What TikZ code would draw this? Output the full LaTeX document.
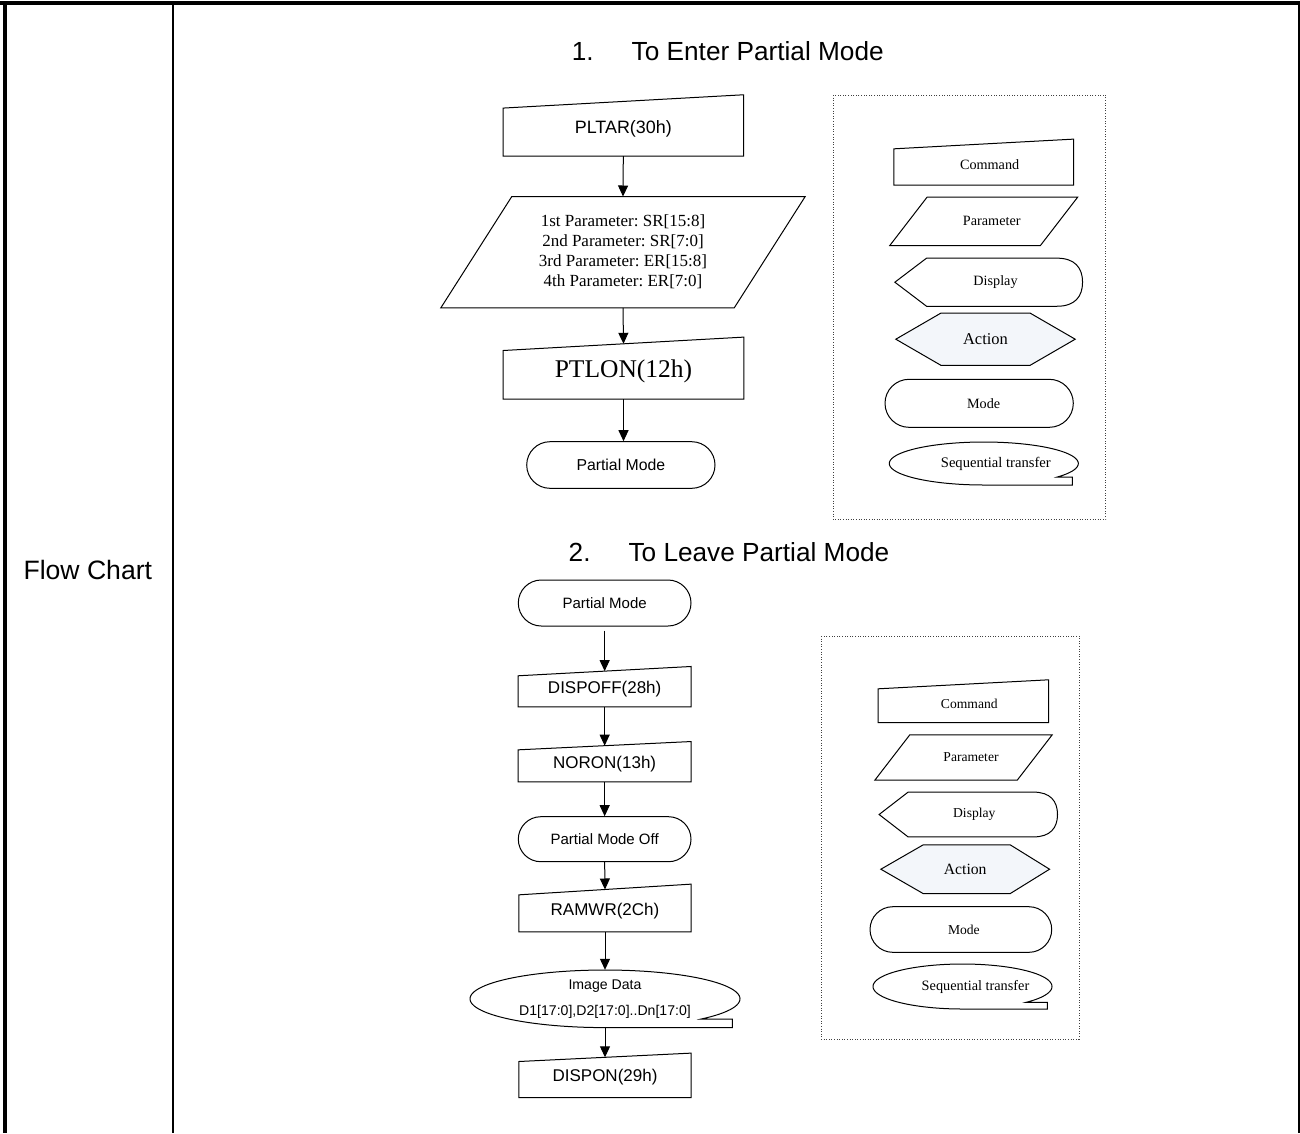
\documentclass[tikz,border=0pt]{standalone}
\usepackage{fontspec}
\setmainfont{Liberation Serif}
\newfontfamily\arial{Liberation Sans}
\usetikzlibrary{calc,arrows.meta,shapes.misc,backgrounds}
\definecolor{actfill}{HTML}{F3F6FA}
\frenchspacing
\tikzset{
  shp/.style={draw=black,line width=1pt},
  bx/.style 2 args={rectangle,draw=none,inner sep=0pt,minimum width=#1pt,minimum height=#2pt},
  modebox/.style 2 args={rounded rectangle,draw=black,line width=1pt,inner sep=0pt,minimum width=#1pt,minimum height=#2pt},
  arr/.style={-{Triangle[length=11pt,width=10pt]},line width=1pt},
  legbox/.style={draw=black!75,line width=0.9pt,dash pattern=on 1pt off 1.6pt},
}
\newcommand{\fcCmdShape}[2]{\draw[shp] ($(#1.north west)+(0,#2)$) -- ($(#1.north east)+(0,-#2)$) -- (#1.south east) -- (#1.south west) -- cycle;}
\newcommand{\fcParShape}[2]{\draw[shp] ($(#1.north west)+(#2,0)$) -- ($(#1.north east)+(#2,0)$) -- ($(#1.south east)+(-#2,0)$) -- ($(#1.south west)+(-#2,0)$) -- cycle;}
\newcommand{\fcDispShape}[3]{\draw[shp] (#1.west) -- ($(#1.north west)+(#2,0)$) -- ($(#1.north east)+(-#3,0)$) .. controls ($(#1.north east)+(-0.3*#3,0)$) and ($(#1.north east)!0.4!(#1.east)$) .. (#1.east) .. controls ($(#1.south east)!0.4!(#1.east)$) and ($(#1.south east)+(-0.3*#3,0)$) .. ($(#1.south east)+(-#3,0)$) -- ($(#1.south west)+(#2,0)$) -- cycle;}
\newcommand{\fcHexShape}[3]{\begin{scope}[on background layer]\draw[shp,fill=actfill] (#1.west) -- ($(#1.north west)+(#2,0)$) -- ($(#1.north east)+(-#3,0)$) -- (#1.east) -- ($(#1.south east)+(-#3,0)$) -- ($(#1.south west)+(#2,0)$) -- cycle;\end{scope}}
\newcommand{\fcTapeShape}[6]{\draw[shp,shift={(#1.center)}] plot[domain=-270:#6,samples=100] ({#2*cos(\x)},{#3*sin(\x)}) -- (#5,#4) -- (#5,#3) -- cycle;}
\begin{document}
\begin{tikzpicture}[x=1pt,y=-1pt]
\useasboundingbox (0,0) rectangle (1300,1133);
% table frame
\draw[line width=4pt] (0,3) -- (1300,3);
\draw[line width=3.4pt] (5,3) -- (5,1133);
\draw[line width=2.7pt] (173,3) -- (173,1133);
\draw[line width=3pt] (1299,3) -- (1299,1133);
\node[anchor=base west,inner sep=0pt,font=\arial\fontsize{26.6}{30}\selectfont] (fc) at (23.3,579) {Flow Chart};
% titles
\node[anchor=base west,inner sep=0pt,font=\arial\fontsize{26.2}{30}\selectfont] (t1) at (571.7,60.5) {1.\hspace{38pt}To Enter Partial Mode};
\node[anchor=base west,inner sep=0pt,font=\arial\fontsize{26.2}{30}\selectfont] (t2) at (568.5,561) {2.\hspace{38pt}To Leave Partial Mode};
% ---- chart 1
\node[bx={240}{54.35},font=\arial\fontsize{17.9}{20}\selectfont] (pltar) at (623.3,128.8) {PLTAR(30h)};
\fcCmdShape{pltar}{6.65}
\node[bx={293}{111},align=center,font=\fontsize{17}{20}\selectfont] (param) at (623,252.2) {1st Parameter: SR[15:8]\\2nd Parameter: SR[7:0]\\3rd Parameter: ER[15:8]\\4th Parameter: ER[7:0]};
\fcParShape{param}{35.5}
\node[bx={240.3}{55},font=\fontsize{25.5}{28}\selectfont] (ptlon) at (623.5,371.5) {PTLON(12h)};
\fcCmdShape{ptlon}{6.7}
\node[modebox={188.3}{46.6},font=\arial\fontsize{15.8}{18}\selectfont] (pm) at (620.85,465) {Partial Mode};
\draw[arr] (pltar.south) -- (param.north);
\draw[arr] (param.south) -- (ptlon.north);
\draw[arr] (ptlon.south) -- (ptlon.south |- pm.north);
% ---- legend 1
\draw[legbox] (833,95) rectangle (1105.7,519.3);
\node[bx={179.3}{40.85},font=\fontsize{14.2}{16}\selectfont] (cmdA) at (983.65,164.6) {\hspace*{12pt}Command};
\fcCmdShape{cmdA}{4.85}
\node[bx={150.2}{48},font=\fontsize{14.2}{16}\selectfont] (parA) at (983.75,221.3) {\hspace*{16pt}Parameter};
\fcParShape{parA}{18.65}
\node[bx={187.3}{47.7},font=\fontsize{14.2}{16}\selectfont] (dispA) at (988.7,282.2) {\hspace*{13.6pt}Display};
\fcDispShape{dispA}{31.7}{25.6}
\node[bx={179}{51.7},font=\fontsize{16.5}{18}\selectfont] (actA) at (985.5,339.2) {Action};
\fcHexShape{actA}{45}{45}
\node[modebox={188.3}{48},font=\fontsize{14.2}{16}\selectfont] (modeA) at (979.15,403.3) {\hspace*{9pt}Mode};
\node[bx={189}{43},font=\fontsize{14.6}{16}\selectfont] (seqA) at (983.8,463.5) {\hspace*{24pt}Sequential transfer};
\fcTapeShape{seqA}{94.5}{21.5}{13.5}{88.5}{38.9}
% ---- chart 2
\node[modebox={172.7}{46},font=\arial\fontsize{15}{18}\selectfont] (pmB) at (604.65,603) {Partial Mode};
\node[bx={172.7}{35.35},font=\arial\fontsize{17}{20}\selectfont] (dispoff) at (604.65,689) {DISPOFF(28h)};
\fcCmdShape{dispoff}{4.65}
\node[bx={172.7}{35.85},font=\arial\fontsize{17}{20}\selectfont] (noron) at (604.65,763.8) {NORON(13h)};
\fcCmdShape{noron}{4.15}
\node[modebox={172.7}{45},font=\arial\fontsize{15}{18}\selectfont] (pmoff) at (604.65,839.2) {Partial Mode Off};
\node[bx={172}{42.05},font=\arial\fontsize{17}{20}\selectfont] (ramwr) at (605,910.7) {RAMWR(2Ch)};
\fcCmdShape{ramwr}{5.35}
\node[bx={270}{57.6},align=center,font=\arial\fontsize{14.1}{25.7}\selectfont] (img) at (605,998.8) {Image Data\\D1[17:0],D2[17:0]..Dn[17:0]};
\fcTapeShape{img}{135}{28.8}{20.2}{127.3}{44.5}
\node[bx={172}{39.8},font=\arial\fontsize{17}{20}\selectfont] (dispon) at (605,1077.4) {DISPON(29h)};
\fcCmdShape{dispon}{4.2}
\draw[arr,shorten <=4pt] (pmB.south) -- (dispoff.north);
\draw[arr] (dispoff.south) -- (noron.north);
\draw[arr] (noron.south) -- (pmoff.north);
\draw[arr] (pmoff.south) -- (ramwr.north);
\draw[arr] (ramwr.south) -- (img.north);
\draw[arr,shorten <=-1pt] (img.south) -- (dispon.north);
% ---- legend 2
\draw[legbox] (821,636) rectangle (1079,1039);
\node[bx={170}{37.8},font=\fontsize{13.6}{16}\selectfont] (cmdB) at (963.3,703.4) {\hspace*{12pt}Command};
\fcCmdShape{cmdB}{4.5}
\node[bx={142}{45},font=\fontsize{13.6}{16}\selectfont] (parB) at (963.5,757.5) {\hspace*{15pt}Parameter};
\fcParShape{parB}{17.5}
\node[bx={178}{44.4},font=\fontsize{13.6}{16}\selectfont] (dispB) at (968.3,814.5) {\hspace*{12pt}Display};
\fcDispShape{dispB}{29}{24}
\node[bx={168.3}{48.3},font=\fontsize{15.7}{18}\selectfont] (actB) at (965.2,869.2) {Action};
\fcHexShape{actB}{42.3}{39.3}
\node[modebox={181.7}{45.6},font=\fontsize{13.6}{16}\selectfont] (modeB) at (960.85,929.5) {\hspace*{6pt}Mode};
\node[bx={180}{45},font=\fontsize{14.3}{16}\selectfont] (seqB) at (962.5,986.5) {\hspace*{26pt}Sequential transfer};
\fcTapeShape{seqB}{89.5}{22.5}{15.8}{84.8}{44.6}
\end{tikzpicture}
\end{document}
